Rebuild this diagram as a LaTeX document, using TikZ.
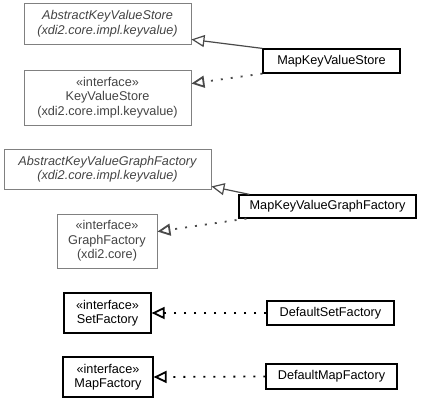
\documentclass[tikz,border=0pt]{standalone}
\usepackage{fontspec}
\setmainfont{Liberation Sans}
\usetikzlibrary{arrows.meta}

\definecolor{umlgray}{HTML}{808080}
\definecolor{umltext}{HTML}{444444}
\definecolor{umlline}{HTML}{4A4A4A}

\tikzset{
  classbox/.style={draw=black, line width=1.2pt, inner sep=0pt, align=center,
    font=\fontsize{12.7}{14.5}\selectfont},
  otherbox/.style={classbox, draw=umlgray, line width=0.9pt, text=umltext},
  extends/.style={-{Triangle[open, length=13pt, width=12pt, fill=white]}, line width=1.2pt},
  implements/.style={extends, dash pattern=on 2pt off 8pt, line width=1.8pt}
}

\begin{document}
\begin{tikzpicture}[x=1pt, y=-1pt]
  \useasboundingbox (0,0) rectangle (428,403);
  % other classes (grey)
  \node[otherbox, minimum width=167pt, minimum height=41pt] (akvs) at (107.5,23.5)
    {\itshape AbstractKeyValueStore\\ \itshape (xdi2.core.impl.keyvalue)};
  \node[otherbox, minimum width=167pt, minimum height=55pt] (kvs) at (107.5,97.5)
    {«interface»\\KeyValueStore\\(xdi2.core.impl.keyvalue)};
  \node[otherbox, minimum width=207pt, minimum height=40pt] (akvgf) at (107.5,169)
    {\itshape AbstractKeyValueGraphFactory\\ \itshape (xdi2.core.impl.keyvalue)};
  \node[otherbox, minimum width=100pt, minimum height=54pt] (gf) at (107,241)
    {«interface»\\GraphFactory\\(xdi2.core)};
  % package classes
  \node[classbox, minimum width=137pt, minimum height=24pt] (mkvs) at (331.5,61) {MapKeyValueStore};
  \node[classbox, minimum width=177pt, minimum height=23pt] (mkvgf) at (327.5,206.5) {MapKeyValueGraphFactory};
  \node[classbox, minimum width=87pt, minimum height=40pt] (sf) at (107.5,313) {«interface»\\SetFactory};
  \node[classbox, minimum width=127pt, minimum height=24pt] (dsf) at (330.5,313) {DefaultSetFactory};
  \node[classbox, minimum width=90pt, minimum height=40pt] (mf) at (108,377) {«interface»\\MapFactory};
  \node[classbox, minimum width=131pt, minimum height=25pt] (dmf) at (331.5,376.5) {DefaultMapFactory};
  % relations
  \draw[extends, umlline] (mkvs.north west) -- ([yshift=5pt]akvs.south east);
  \draw[implements, umlline] (mkvs.south west) -- ([yshift=-14pt]kvs.north east);
  \draw[extends, umlline] ([xshift=11pt]mkvgf.north west) -- ([yshift=3pt]akvgf.south east);
  \draw[implements, umlline] ([xshift=8pt]mkvgf.south west) -- ([yshift=-18pt]gf.north east);
  \draw[implements] (dsf.west) -- (sf.east);
  \draw[implements] (dmf.west) -- (mf.east);
\end{tikzpicture}
\end{document}
